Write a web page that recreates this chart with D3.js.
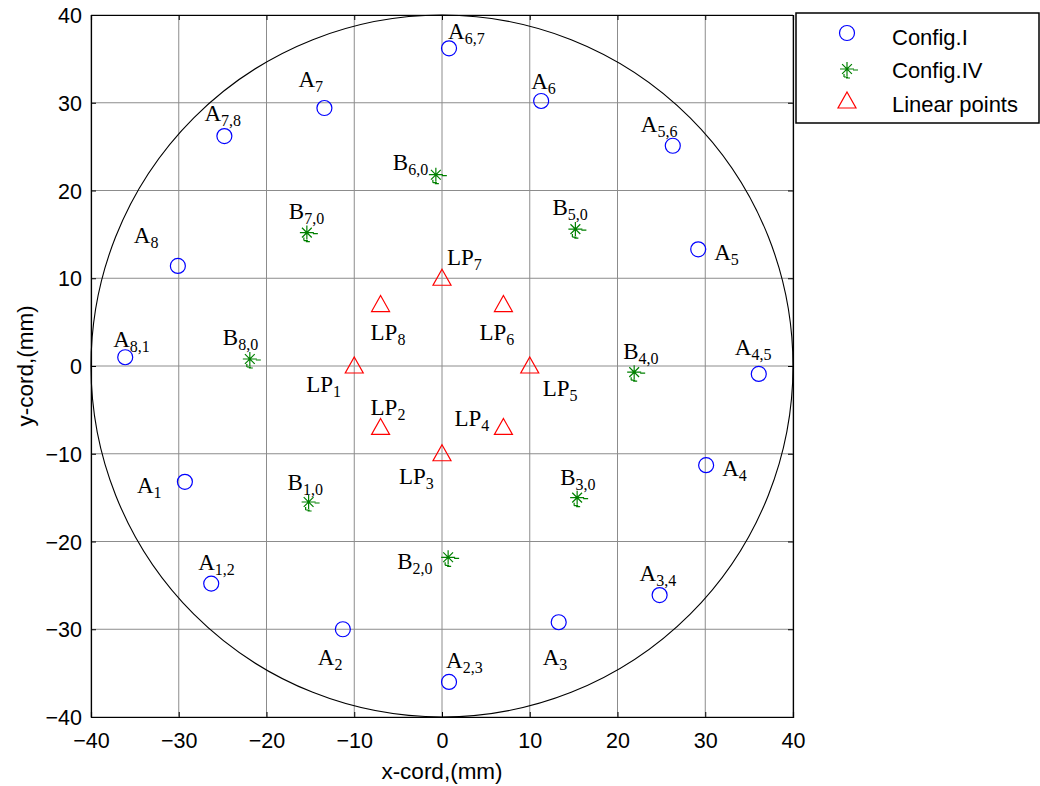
<!DOCTYPE html>
<html>
<head>
<meta charset="utf-8">
<script src="https://cdn.jsdelivr.net/npm/d3@7"></script>
<style>
  html, body { margin: 0; padding: 0; background: #fff; }
  svg { display: block; }
</style>
</head>
<body>
<svg id="chart" width="1040" height="786"></svg>
<script>
// Config.I sensor positions (mm)
const configI = [
  { name: "A", sub: "6,7", x: 0.8,   y: 36.2 },
  { name: "A", sub: "6",   x: 11.3,  y: 30.2 },
  { name: "A", sub: "7",   x: -13.4, y: 29.4 },
  { name: "A", sub: "7,8", x: -24.8, y: 26.2 },
  { name: "A", sub: "5,6", x: 26.3,  y: 25.1 },
  { name: "A", sub: "5",   x: 29.2,  y: 13.3 },
  { name: "A", sub: "8",   x: -30.1, y: 11.4 },
  { name: "A", sub: "8,1", x: -36.1, y: 1.0 },
  { name: "A", sub: "4,5", x: 36.1,  y: -0.9 },
  { name: "A", sub: "4",   x: 30.1,  y: -11.3 },
  { name: "A", sub: "1",   x: -29.3, y: -13.2 },
  { name: "A", sub: "1,2", x: -26.3, y: -24.8 },
  { name: "A", sub: "3,4", x: 24.8,  y: -26.1 },
  { name: "A", sub: "2",   x: -11.3, y: -30.0 },
  { name: "A", sub: "3",   x: 13.3,  y: -29.2 },
  { name: "A", sub: "2,3", x: 0.8,   y: -36.0 }
];

// Config.IV sensor positions (mm)
const configIV = [
  { name: "B", sub: "6,0", x: -0.7,  y: 21.8 },
  { name: "B", sub: "7,0", x: -15.4, y: 15.2 },
  { name: "B", sub: "5,0", x: 15.2,  y: 15.6 },
  { name: "B", sub: "8,0", x: -21.9, y: 0.8 },
  { name: "B", sub: "4,0", x: 21.9,  y: -0.7 },
  { name: "B", sub: "1,0", x: -15.2, y: -15.5 },
  { name: "B", sub: "3,0", x: 15.4,  y: -15.0 },
  { name: "B", sub: "2,0", x: 0.7,   y: -21.8 }
];

// Linear points (mm)
const linearPoints = [
  { name: "LP", sub: "7", x: 0,   y: 10 },
  { name: "LP", sub: "8", x: -7,  y: 7 },
  { name: "LP", sub: "6", x: 7,   y: 7 },
  { name: "LP", sub: "1", x: -10, y: 0 },
  { name: "LP", sub: "5", x: 10,  y: 0 },
  { name: "LP", sub: "2", x: -7,  y: -7 },
  { name: "LP", sub: "4", x: 7,   y: -7 },
  { name: "LP", sub: "3", x: 0,   y: -10 }
];

// Boundary circle radius (mm)
const boundaryRadius = [40];

const xTicks = [-40, -30, -20, -10, 0, 10, 20, 30, 40];
const yTicks = [-40, -30, -20, -10, 0, 10, 20, 30, 40];
const legendLabels = ["Config.I", "Config.IV", "Linear points"];

// Label placement relative to each marker, in pixels (dx to text start, dy to baseline)
const labelOffsetI = [
  [-1, -9], [-10, -12], [-26, -21], [-20, -15], [-32, -14], [16, 11],
  [-44, -23], [-12, -10], [-24, -19], [16, 11], [-48, 11], [-13, -14],
  [-20, -14], [-25, 36], [-16, 43], [-3, -14]
];
const labelOffsetIV = [
  [-43, -5], [-18, -14], [-23, -14], [-27, -14], [-11, -13], [-21, -12],
  [-17, -13], [-51, 12]
];
const labelOffsetLP = [
  [5, -13], [-10, 35], [-24, 35], [-48, 26], [13, 30], [-10, -12],
  [-49, -1], [-43, 30]
];

const svg = d3.select("#chart");
const margin = { left: 91, top: 15, right: 247, bottom: 69 };
const W = 1040, H = 786;
const plotW = W - margin.left - margin.right;
const plotH = H - margin.top - margin.bottom;

const x = d3.scaleLinear().domain([-40, 40]).range([margin.left, margin.left + plotW]);
const y = d3.scaleLinear().domain([-40, 40]).range([margin.top + plotH, margin.top]);

const g = svg.append("g");

// grid
g.append("g").selectAll("line").data(xTicks).join("line")
  .attr("x1", d => x(d)).attr("x2", d => x(d))
  .attr("y1", y(-40)).attr("y2", y(40))
  .attr("stroke", "#8c8c8c").attr("stroke-width", 1);
g.append("g").selectAll("line").data(yTicks).join("line")
  .attr("y1", d => y(d)).attr("y2", d => y(d))
  .attr("x1", x(-40)).attr("x2", x(40))
  .attr("stroke", "#8c8c8c").attr("stroke-width", 1);

// boundary circle
g.selectAll("circle.bound").data(boundaryRadius).join("circle")
  .attr("class", "bound")
  .attr("cx", x(0)).attr("cy", y(0))
  .attr("r", d => x(d) - x(0))
  .attr("fill", "none").attr("stroke", "#000").attr("stroke-width", 1.1);

// axes
const fontAxis = "'Liberation Sans', Arial, sans-serif";
const xAxis = d3.axisBottom(x).tickValues(xTicks).tickSize(-5).tickPadding(23);
const yAxis = d3.axisLeft(y).tickValues(yTicks).tickSize(-5).tickPadding(9);
const xa = g.append("g").attr("transform", `translate(0,${y(-40)})`).call(xAxis);
const ya = g.append("g").attr("transform", `translate(${x(-40)},0)`).call(yAxis);
const xaTop = g.append("g").attr("transform", `translate(0,${y(40)})`).call(d3.axisTop(x).tickValues(xTicks).tickSize(-5).tickFormat(""));
const yaRight = g.append("g").attr("transform", `translate(${x(40)},0)`).call(d3.axisRight(y).tickValues(yTicks).tickSize(-5).tickFormat(""));
[xa, ya, xaTop, yaRight].forEach(a => {
  a.select(".domain").attr("stroke", "#000").attr("stroke-width", 1.2);
  a.selectAll(".tick line").attr("stroke", "#000");
  a.selectAll("text").attr("font-family", fontAxis).attr("font-size", 21.5).attr("fill", "#000");
});
xa.selectAll("text").attr("dy", "0.35em");
ya.selectAll("text").attr("dy", "0.35em");

// axis titles
svg.append("text").attr("x", x(0)).attr("y", 779)
  .attr("text-anchor", "middle").attr("font-family", fontAxis).attr("font-size", 22.5)
  .text("x-cord,(mm)");
svg.append("text").attr("transform", `translate(33,${y(0)}) rotate(-90)`)
  .attr("text-anchor", "middle").attr("font-family", fontAxis).attr("font-size", 22.5)
  .text("y-cord,(mm)");

// marker drawers
const blue = "#0000ff", green = "#008000", red = "#ff0000";
function drawCircle(sel) {
  sel.append("circle").attr("r", 7.5).attr("fill", "none").attr("stroke", blue).attr("stroke-width", 1.2);
}
function drawStar(sel) {
  const r = 7;
  const k = r * 0.7;
  const p = [`M${-r},0L${r},0`, `M0,${-r}L0,${r}`,
             `M${-k},${-k}L${k},${k}`, `M${-k},${k}L${k},${-k}`];
  sel.append("path").attr("d", p.join("")).attr("stroke", green).attr("stroke-width", 1.2).attr("fill", "none");
  // dash-dot tail of the marker
  sel.append("path").attr("d", "M6,1L11,1M-3,5L-3,8M-3,8L1,8M-1,9L3,9")
    .attr("stroke", green).attr("stroke-width", 1.2).attr("fill", "none");
}
function drawTriangle(sel) {
  sel.append("path").attr("d", "M0,-9L9,7L-9,7Z").attr("fill", "none").attr("stroke", red).attr("stroke-width", 1.2);
}

const fontLabel = "'Liberation Serif', 'Times New Roman', serif";
function drawSeries(data, offsets, drawer) {
  const grp = g.append("g");
  const pts = grp.selectAll("g.pt").data(data).join("g")
    .attr("class", "pt")
    .attr("transform", d => `translate(${x(d.x)},${y(d.y)})`);
  drawer(pts);
  const lab = grp.selectAll("text").data(data).join("text")
    .attr("x", (d, i) => x(d.x) + offsets[i][0])
    .attr("y", (d, i) => y(d.y) + offsets[i][1])
    .attr("font-family", fontLabel).attr("font-size", 23).attr("fill", "#000");
  lab.append("tspan").text(d => d.name);
  lab.append("tspan").attr("font-size", 16).attr("dy", 5).text(d => d.sub);
}
drawSeries(configI, labelOffsetI, drawCircle);
drawSeries(configIV, labelOffsetIV, drawStar);
drawSeries(linearPoints, labelOffsetLP, drawTriangle);

// legend
const lg = svg.append("g").attr("transform", "translate(796,13)");
lg.append("rect").attr("width", 243).attr("height", 110).attr("fill", "#fff").attr("stroke", "#000").attr("stroke-width", 1.5);
const drawers = [drawCircle, drawStar, drawTriangle];
const markerRows = [20, 56, 88];
const textRows = [32, 65, 99];
legendLabels.forEach((t, i) => {
  const row = lg.append("g").attr("transform", `translate(51,${markerRows[i]})`);
  drawers[i](row);
  lg.append("text").attr("x", 96).attr("y", textRows[i])
    .attr("font-family", fontAxis).attr("font-size", 22).text(t);
});
</script>
</body>
</html>
